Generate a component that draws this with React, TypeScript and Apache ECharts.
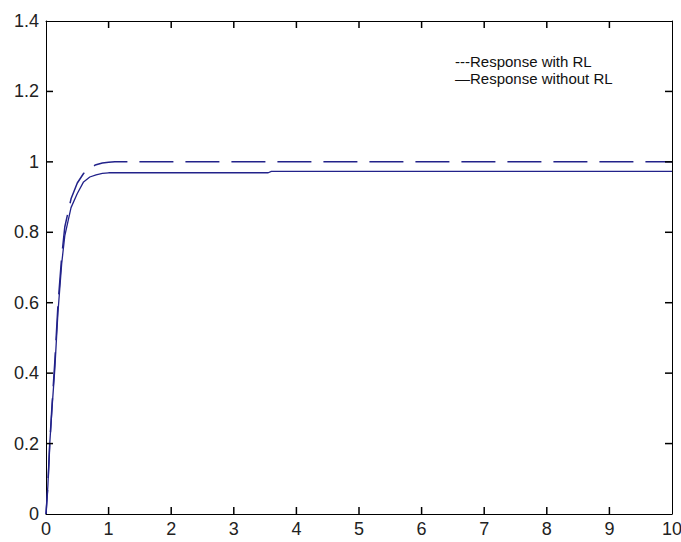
import React, { useEffect, useRef } from "react";
import * as echarts from "echarts";

const withRL_t = [0, 0.03, 0.06, 0.1, 0.14, 0.19, 0.25, 0.3, 0.4, 0.5, 0.6, 0.7, 0.8, 0.9, 1.0, 1.1, 10];
const withRL_y = [0, 0.08, 0.2, 0.32, 0.43, 0.59, 0.73, 0.815, 0.895, 0.94, 0.967, 0.983, 0.992, 0.997, 0.999, 1.0, 1.0];
const withoutRL_t = [0, 0.03, 0.06, 0.1, 0.14, 0.19, 0.25, 0.3, 0.4, 0.5, 0.6, 0.7, 0.8, 0.9, 1.0, 3.55, 3.6, 10];
const withoutRL_y = [0, 0.08, 0.2, 0.31, 0.41, 0.57, 0.71, 0.79, 0.87, 0.91, 0.943, 0.957, 0.963, 0.967, 0.969, 0.969, 0.973, 0.973];
const xTicks = [1, 2, 3, 4, 5, 6, 7, 8, 9];
const yTicks = [0.2, 0.4, 0.6, 0.8, 1.0, 1.2];
const legendLines = ["---Response with RL", "\u2014Response without RL"];

const LINE_COLOR = "#22228a";
const FONT = "'Liberation Sans', Arial, sans-serif";
const X_MIN = 0, X_MAX = 10, Y_MIN = 0, Y_MAX = 1.4;
const TICK_LEN = 7;

export default function App() {
  const ref = useRef<HTMLDivElement>(null);
  useEffect(() => {
    document.body.style.margin = "0";
    const chart = echarts.init(ref.current!, null, { renderer: "svg" });
    const pair = (t: number[], y: number[]) => t.map((v, i) => [v, y[i]]);
    const tickLine = (x1: number, y1: number, x2: number, y2: number) => ({
      type: "line", shape: { x1, y1, x2, y2 }, style: { stroke: "#000", lineWidth: 1.5 },
    });
    chart.setOption({
      animation: false,
      backgroundColor: "#fff",
      grid: {
        left: 46, top: 21, right: 9, bottom: 28, containLabel: false, outerBoundsMode: "none",
        show: false,
      },
      xAxis: [
        {
          type: "value", min: X_MIN, max: X_MAX, interval: 1, position: "bottom",
          axisLine: { show: true, onZero: false, lineStyle: { color: "#000" } },
          axisTick: { show: false }, splitLine: { show: false },
          axisLabel: { color: "#222", fontSize: 18, fontFamily: FONT, margin: 6 },
        },
        {
          type: "value", min: X_MIN, max: X_MAX, interval: 1, position: "top",
          axisLine: { show: true, onZero: false, lineStyle: { color: "#000" } },
          axisTick: { show: false }, splitLine: { show: false }, axisLabel: { show: false },
        },
      ],
      yAxis: [
        {
          type: "value", min: Y_MIN, max: Y_MAX, interval: 0.2, position: "left",
          axisLine: { show: true, onZero: false, lineStyle: { color: "#000" } },
          axisTick: { show: false }, splitLine: { show: false },
          axisLabel: { color: "#222", fontSize: 18, fontFamily: FONT, margin: 7 },
        },
        {
          type: "value", min: Y_MIN, max: Y_MAX, interval: 0.2, position: "right",
          axisLine: { show: true, onZero: false, lineStyle: { color: "#000" } },
          axisTick: { show: false }, splitLine: { show: false }, axisLabel: { show: false },
        },
      ],
      series: [
        {
          name: "Response with RL", type: "line", data: pair(withRL_t, withRL_y),
          showSymbol: false, smooth: false,
          lineStyle: { color: LINE_COLOR, width: 1.5, type: [34, 12], dashOffset: 10 },
        },
        {
          name: "Response without RL", type: "line", data: pair(withoutRL_t, withoutRL_y),
          showSymbol: false, smooth: false,
          lineStyle: { color: LINE_COLOR, width: 1.3, type: "solid" },
        },
        {
          type: "custom", silent: true, clip: false, z: 10,
          data: xTicks.map((v) => [v, Y_MIN]),
          renderItem: (params: any, api: any) => {
            const v = api.value(0);
            const b = api.coord([v, Y_MIN]);
            const t = api.coord([v, Y_MAX]);
            return {
              type: "group",
              children: [
                tickLine(b[0], b[1], b[0], b[1] - TICK_LEN),
                tickLine(t[0], t[1], t[0], t[1] + TICK_LEN),
              ],
            };
          },
        },
        {
          type: "custom", silent: true, clip: false, z: 10,
          data: yTicks.map((v) => [X_MIN, v]),
          renderItem: (params: any, api: any) => {
            const v = api.value(1);
            const l = api.coord([X_MIN, v]);
            const r = api.coord([X_MAX, v]);
            return {
              type: "group",
              children: [
                tickLine(l[0], l[1], l[0] + TICK_LEN, l[1]),
                tickLine(r[0], r[1], r[0] - TICK_LEN, r[1]),
              ],
            };
          },
        },
      ],
      graphic: legendLines.map((s, i) => ({
        type: "text", left: 455, top: 54 + i * 17,
        style: { text: s, fill: "#111", font: `15px ${FONT}` },
      })),
    });
    return () => chart.dispose();
  }, []);
  return <div ref={ref} style={{ position: "absolute", left: 0, top: 0, width: 681, height: 542, background: "#fff" }} />;
}
